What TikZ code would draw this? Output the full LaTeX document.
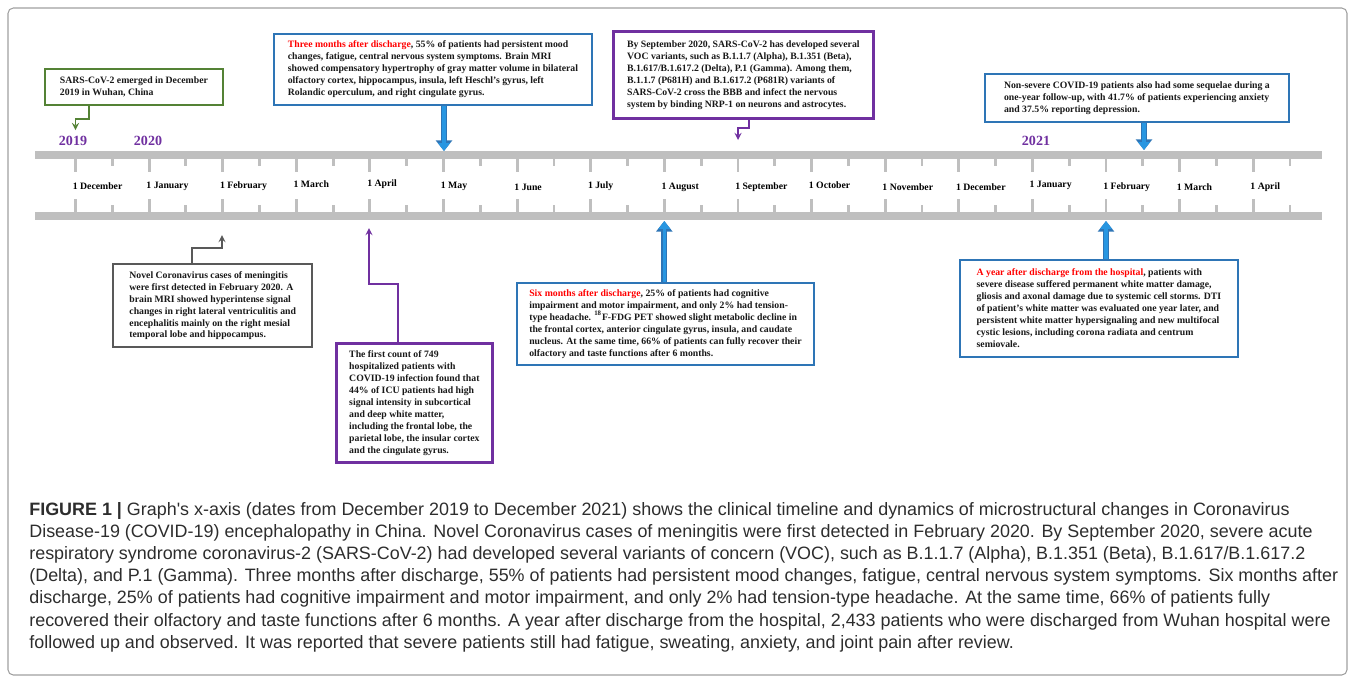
\documentclass[tikz,border=0pt]{standalone}
\usepackage{fontspec}
\setmainfont{Liberation Serif}
\newfontfamily\capfont{Liberation Sans}
\usepackage{tikz}
\usetikzlibrary{shapes,arrows,arrows.meta,calc}
\usetikzlibrary{positioning}
\definecolor{clrBorders}{RGB}{160,160,160}
\definecolor{clrGreen}{RGB}{84,130,53}
\definecolor{clrBlue}{RGB}{46,117,182}
\definecolor{clrArrow}{RGB}{40,150,225}
\definecolor{clrPurple}{RGB}{112,48,160}
\definecolor{clrDark}{RGB}{89,89,89}
\definecolor{clrBar}{RGB}{191,191,191}
\definecolor{clrRed}{RGB}{255,0,0}
\definecolor{clrCaption}{RGB}{45,45,45}
\tikzstyle{box_style0}=[draw, anchor=north west, align=left, inner xsep=4pt, inner ysep=2pt,
fill=white, text=black!90, font=\bfseries\fontsize{5.55}{6.8}\selectfont]
\tikzstyle{box_blue}=[box_style0, draw=clrBlue, line width=1.1pt]
\tikzstyle{box_purple}=[box_style0, draw=clrPurple, line width=1.6pt]
\tikzstyle{box_green}=[box_style0, draw=clrGreen, line width=1.1pt]
\tikzstyle{box_gray}=[box_style0, draw=clrDark, line width=1.4pt]
\tikzstyle{thinarrow}=[->, >=stealth, line width=0.8pt]
\tikzstyle{bigarrow}=[line width=2pt, clrArrow, -{Triangle[width=6.5pt,length=4.5pt]},
preaction={draw, clrBlue, line width=3.4pt, -{Triangle[width=9pt,length=6pt]}}]
\tikzstyle{bar}=[line width=4pt, clrBar]
\tikzstyle{tick_style}=[line width=1.6pt, clrBar]
\tikzstyle{month}=[anchor=west, inner sep=0pt, font=\bfseries\fontsize{5.55}{6.8}\selectfont]
\tikzstyle{year}=[inner sep=0pt, text=clrPurple, font=\bfseries\fontsize{8}{9}\selectfont]

\begin{document}
\begin{tikzpicture}[x=0.02cm, y=-0.02cm]
		\useasboundingbox (0,0) rectangle (1355,681);
		\draw[clrBorders, line width=0.6pt, rounded corners=3pt] (8,8) rectangle (1347,675);

		% timeline
		\draw[bar] (35,155) -- (1322,155);
		\draw[bar] (35,216) -- (1322,216);
		\foreach \m in {0,...,16} {
			\draw[tick_style] ({75.5+73.6*\m},157) -- ++(0,15);
			\draw[tick_style] ({75.5+73.6*\m},214) -- ++(0,-15);
			\draw[tick_style] ({112.3+73.6*\m},157) -- ++(0,9);
			\draw[tick_style] ({112.3+73.6*\m},214) -- ++(0,-9);
		}

		\node[month] (dec19) at (72.5,186) {1 December};
		\node[month] (jan20) at (146.1,186) {1 January};
		\node[month] (feb20) at (219.7,186) {1 February};
		\node[month] (mar20) at (293.3,184) {1 March};
		\node[month] (apr20) at (366.9,184) {1 April};
		\node[month] (may20) at (440.5,186) {1 May};
		\node[month] (jun20) at (514.1,187) {1 June};
		\node[month] (jul20) at (587.7,186) {1 July};
		\node[month] (aug20) at (661.3,187) {1 August};
		\node[month] (sep20) at (734.9,187) {1 September};
		\node[month] (oct20) at (808.5,185) {1 October};
		\node[month] (nov20) at (882.1,187) {1 November};
		\node[month] (dec20) at (955.7,187) {1 December};
		\node[month] (jan21) at (1029.3,185) {1 January};
		\node[month] (feb21) at (1102.9,187) {1 February};
		\node[month] (mar21) at (1176.5,187) {1 March};
		\node[month] (apr21) at (1250.1,187) {1 April};

		\node[year] (y2019) at (73,141) {2019};
		\node[year] (y2020) at (148,141) {2020};
		\node[year] (y2021) at (1036,141) {2021};

		% arrow ends on the timeline
		\coordinate (tipDec) at (75.5,130);
		\coordinate (tipFeb) at (222,235);
		\coordinate (tipApr) at (369,228);
		\coordinate (tipMay) at (444,151);
		\coordinate (tipAug) at (664.3,221);
		\coordinate (tipSep) at (738,140);
		\coordinate (tipFebA) at (1106,221);
		\coordinate (tipFebB) at (1144,150);

		% boxes above
		\node[box_green, minimum width=3.56cm, minimum height=0.72cm] (sars) at (44,68)
			{SARS-CoV-2 emerged in December\\2019 in Wuhan, China};
		\draw[thinarrow, clrGreen] ([xshift=0.9cm]sars.south west) -- ++(0,13) -| (tipDec);

		\node[box_blue, minimum width=6.36cm, minimum height=1.42cm] (threem) at (273,33)
			{{\color{clrRed}Three months after discharge}, 55\% of patients had persistent mood\\changes, fatigue, central nervous system symptoms. Brain MRI\\showed compensatory hypertrophy of gray matter volume in bilateral\\olfactory cortex, hippocampus, insula, left Heschl's gyrus, left\\Rolandic operculum, and right cingulate gyrus.};
		\draw[bigarrow] (threem.south -| tipMay) -- (tipMay);

		\node[box_purple, minimum width=5.2cm, minimum height=1.74cm] (sept) at (612,30)
			{By September 2020, SARS-CoV-2 has developed several\\VOC variants, such as B.1.1.7 (Alpha), B.1.351 (Beta),\\B.1.617/B.1.617.2 (Delta), P.1 (Gamma). Among them,\\B.1.1.7 (P681H) and B.1.617.2 (P681R) variants of\\SARS-CoV-2 cross the BBB and infect the nervous\\system by binding NRP-1 on neurons and astrocytes.};
		\draw[thinarrow, clrPurple] ([xshift=2.74cm]sept.south west) -- ++(0,8) -| (tipSep);

		\node[box_blue, minimum width=6.08cm, minimum height=0.96cm] (nonsev) at (984,73)
			{Non-severe COVID-19 patients also had some sequelae during a\\one-year follow-up, with 41.7\% of patients experiencing anxiety\\and 37.5\% reporting depression.};
		\draw[bigarrow] (nonsev.south -| tipFebB) -- (tipFebB);

		% boxes below
		\node[box_gray, minimum width=3.98cm, minimum height=1.66cm] (mening) at (112,263)
			{Novel Coronavirus cases of meningitis\\were first detected in February 2020. A\\brain MRI showed hyperintense signal\\changes in right lateral ventriculitis and\\encephalitis mainly on the right mesial\\temporal lobe and hippocampus.};
		\draw[thinarrow, clrDark] ([xshift=1.6cm]mening.north west) -- ++(0,-15) -| (tipFeb);

		\node[box_purple, minimum width=3.12cm, minimum height=2.38cm] (icu) at (335,342)
			{The first count of 749\\hospitalized patients with\\COVID-19 infection found that\\44\% of ICU patients had high\\signal intensity in subcortical\\and deep white matter,\\including the frontal lobe, the\\parietal lobe, the insular cortex\\and the cingulate gyrus.};
		\draw[thinarrow, clrPurple] ([xshift=1.26cm]icu.north west) -- ++(0,-58) -| (tipApr);

		\node[box_blue, minimum width=5.94cm, minimum height=1.64cm] (sixm) at (516,282)
			{{\color{clrRed}Six months after discharge}, 25\% of patients had cognitive\\impairment and motor impairment, and only 2\% had tension-\\type headache. \textsuperscript{18}F-FDG PET showed slight metabolic decline in\\the frontal cortex, anterior cingulate gyrus, insula, and caudate\\nucleus. At the same time, 66\% of patients can fully recover their\\olfactory and taste functions after 6 months.};
		\draw[bigarrow] (sixm.north -| tipAug) -- (tipAug);

		\node[box_blue, minimum width=5.56cm, minimum height=1.94cm] (ayear) at (959,259)
			{{\color{clrRed}A year after discharge from the hospital}, patients with\\severe disease suffered permanent white matter damage,\\gliosis and axonal damage due to systemic cell storms. DTI\\of patient's white matter was evaluated one year later, and\\persistent white matter hypersignaling and new multifocal\\cystic lesions, including corona radiata and centrum\\semiovale.};
		\draw[bigarrow] (ayear.north -| tipFebA) -- (tipFebA);

		% caption
		\node[anchor=north west, inner sep=0pt, align=left, text=clrCaption,
			font=\capfont\fontsize{10.2}{12.6}\selectfont] (caption) at (29,502)
			{\textbf{FIGURE 1 |} Graph's x-axis (dates from December 2019 to December 2021) shows the clinical timeline and dynamics of microstructural changes in Coronavirus\\
			Disease-19 (COVID-19) encephalopathy in China. Novel Coronavirus cases of meningitis were first detected in February 2020. By September 2020, severe acute\\
			respiratory syndrome coronavirus-2 (SARS-CoV-2) had developed several variants of concern (VOC), such as B.1.1.7 (Alpha), B.1.351 (Beta), B.1.617/B.1.617.2\\
			(Delta), and P.1 (Gamma). Three months after discharge, 55\% of patients had persistent mood changes, fatigue, central nervous system symptoms. Six months after\\
			discharge, 25\% of patients had cognitive impairment and motor impairment, and only 2\% had tension-type headache. At the same time, 66\% of patients fully\\
			recovered their olfactory and taste functions after 6 months. A year after discharge from the hospital, 2,433 patients who were discharged from Wuhan hospital were\\
			followed up and observed. It was reported that severe patients still had fatigue, sweating, anxiety, and joint pain after review.};
	\end{tikzpicture}
\end{document}
